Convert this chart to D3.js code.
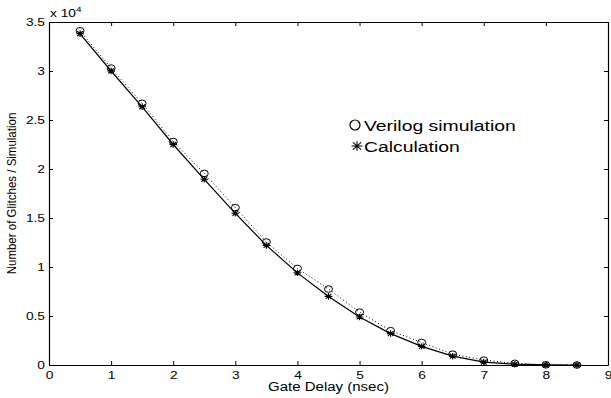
<html>
<head>
<script src="https://d3js.org/d3.v7.min.js"></script>
<style>
  body { margin: 0; background: #fff; }
  text { font-family: "Liberation Sans", Arial, Helvetica, sans-serif; fill: #000; }
</style>
</head>
<body>
<svg id="chart" width="611" height="398"></svg>
<script>
// gate delay (nsec)
var delays = [0.5, 1, 1.5, 2, 2.5, 3, 3.5, 4, 4.5, 5, 5.5, 6, 6.5, 7, 7.5, 8, 8.5];
// glitches per simulation
var verilog = [34100, 30300, 26700, 22800, 19550, 16050, 12550, 9850, 7750, 5400, 3500, 2300, 1100, 500, 170, 20, 0];
var calc    = [33800, 30000, 26350, 22500, 18950, 15480, 12200, 9400, 7000, 4900, 3200, 1900, 900, 300, 80, 10, 0];
var xTicks = [0, 1, 2, 3, 4, 5, 6, 7, 8, 9];
var yTicks = [0, 5000, 10000, 15000, 20000, 25000, 30000, 35000];
var legendLabels = ["Verilog simulation", "Calculation"];

var SX = 1.25; // the figure is stretched sideways a bit

var svg = d3.select("#chart");
var mLeft = 49, mRight = 608, mTop = 22, mBottom = 365;

var x = d3.scaleLinear().domain([0, 9]).range([mLeft, mRight]);
var y = d3.scaleLinear().domain([0, 35000]).range([mBottom, mTop]);

// box + inward ticks
function styleAxis(g) {
  g.select(".domain").attr("stroke", "#000").attr("stroke-width", 1.2);
  g.selectAll(".tick line").attr("stroke", "#000");
}

svg.append("g")
  .attr("transform", "translate(0," + mBottom + ")")
  .call(d3.axisBottom(x).tickValues(xTicks).tickSize(-4).tickSizeOuter(0).tickPadding(6))
  .call(styleAxis)
  .call(function(g) {
    g.selectAll("text").attr("font-size", 11).attr("font-family", null)
      .attr("transform", "scale(" + SX + ",1)");
  });

svg.append("g")
  .attr("transform", "translate(0," + mTop + ")")
  .call(d3.axisTop(x).tickValues(xTicks).tickSize(-4).tickSizeOuter(0).tickFormat(""))
  .call(styleAxis);

svg.append("g")
  .attr("transform", "translate(" + mLeft + ",0)")
  .call(d3.axisLeft(y).tickValues(yTicks).tickSize(-4).tickSizeOuter(0).tickPadding(4)
    .tickFormat(function(d) { return d3.format("~g")(d / 10000); }))
  .call(styleAxis)
  .call(function(g) {
    g.selectAll("text").attr("font-size", 11).attr("font-family", null)
      .attr("x", -4 / SX)
      .attr("transform", "scale(" + SX + ",1)");
  });

svg.append("g")
  .attr("transform", "translate(" + mRight + ",0)")
  .call(d3.axisRight(y).tickValues(yTicks).tickSize(-4).tickSizeOuter(0).tickFormat(""))
  .call(styleAxis);

// exponent
var ex = svg.append("text")
  .attr("transform", "translate(50,17) scale(" + SX + ",1)")
  .attr("font-size", 11);
ex.append("tspan").text("x 10");
ex.append("tspan").attr("font-size", 8).attr("dy", -5).text("4");

// lines
var line = d3.line().x(function(d, i) { return x(delays[i]); }).y(function(d) { return y(d); });

svg.append("path").datum(verilog)
  .attr("d", line).attr("fill", "none")
  .attr("stroke", "#000").attr("stroke-width", 1).attr("stroke-dasharray", "1,2.5");

svg.append("path").datum(calc)
  .attr("d", line).attr("fill", "none")
  .attr("stroke", "#000").attr("stroke-width", 1.2);

// markers
svg.append("g").selectAll("ellipse")
  .data(verilog).enter().append("ellipse")
  .attr("cx", function(d, i) { return x(delays[i]); })
  .attr("cy", function(d) { return y(d); })
  .attr("rx", 4).attr("ry", 3.3)
  .attr("fill", "none").attr("stroke", "#000").attr("stroke-width", 1);

function star(g, cx, cy, s) {
  g.append("path")
    .attr("d", "M" + (cx - s) + "," + cy + "H" + (cx + s) +
      "M" + cx + "," + (cy - s * 0.85) + "V" + (cy + s * 0.85) +
      "M" + (cx - s * 0.75) + "," + (cy - s * 0.65) + "L" + (cx + s * 0.75) + "," + (cy + s * 0.65) +
      "M" + (cx - s * 0.75) + "," + (cy + s * 0.65) + "L" + (cx + s * 0.75) + "," + (cy - s * 0.65))
    .attr("stroke", "#000").attr("stroke-width", 1.1).attr("fill", "none");
}
var stars = svg.append("g");
calc.forEach(function(d, i) { star(stars, x(delays[i]), y(d), 3.8); });

// legend
var lg = svg.append("g");
lg.append("ellipse").attr("cx", 355).attr("cy", 125).attr("rx", 5).attr("ry", 5)
  .attr("fill", "none").attr("stroke", "#000").attr("stroke-width", 1.2);
star(lg, 357, 146, 5.5);
legendLabels.forEach(function(t, i) {
  lg.append("text")
    .attr("transform", "translate(364," + (131 + i * 21) + ") scale(" + SX + ",1)")
    .attr("font-size", 15.5).text(t);
});

// axis titles
svg.append("text")
  .attr("transform", "translate(" + ((mLeft + mRight) / 2) + ",391) scale(" + SX + ",1)")
  .attr("text-anchor", "middle").attr("font-size", 12)
  .text("Gate Delay (nsec)");

svg.append("text")
  .attr("transform", "translate(16," + ((mTop + mBottom) / 2) + ") scale(1.1,1) rotate(-90)")
  .attr("text-anchor", "middle").attr("font-size", 11.5)
  .text("Number of Glitches / Simulation");
</script>
</body>
</html>
